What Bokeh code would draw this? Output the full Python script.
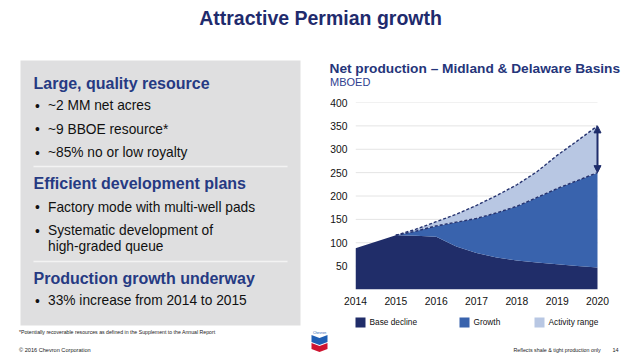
from bokeh.plotting import figure
from bokeh.layouts import column, row
from bokeh.models import Range1d, FixedTicker, Arrow, NormalHead
from bokeh.core.properties import value
from bokeh.embed import file_html
from bokeh.resources import INLINE

# ---------------- data ----------------
t = [2014, 2014.5, 2015, 2015.5, 2016, 2016.5, 2017, 2017.5, 2018, 2018.5, 2019, 2019.5, 2020]
base_decline = [88, 102, 116, 115, 113, 92, 78, 68.5, 62, 58, 54, 50.5, 47]
t_growth = [2015, 2015.5, 2016, 2016.5, 2017, 2017.5, 2018, 2018.5, 2019, 2019.5, 2020]
growth_top = [116, 125, 136, 144, 152, 164, 178, 197, 216, 233, 250]
activity_top = [116, 129, 145, 161, 180, 201, 224, 252, 287, 318, 350]
x_ticks = [2014, 2015, 2016, 2017, 2018, 2019, 2020]
y_ticks = [50, 100, 150, 200, 250, 300, 350, 400]
legend_labels = ["Base decline", "Growth", "Activity range"]
series_colors = ["#202d69", "#3963ad", "#b8c7e3"]

page_title = "Attractive Permian growth"
chart_title = "Net production \u2013 Midland & Delaware Basins"
chart_unit = "MBOED"
headings = ["Large, quality resource", "Efficient development plans", "Production growth underway"]
bullets = ["~2 MM net acres", "~9 BBOE resource*", "~85% no or low royalty",
           "Factory mode with multi-well pads", "Systematic development of",
           "33% increase from 2014 to 2015"]
continuation = ["high-graded queue"]
footnote = "*Potentially recoverable resources as defined in the Supplement to the Annual Report"
copyright_txt = "\u00a9 2016 Chevron Corporation"
footer_right = "Reflects shale & tight production only"
page_no = "14"

FONT = value("Liberation Sans")
NAVY = "#1f2b6d"
HEAD = "#263a83"


def canvas(w, h, x0, y0):
    f = figure(width=w, height=h, x_range=Range1d(x0, x0 + w), y_range=Range1d(y0 + h, y0),
               x_axis_type=None, y_axis_type=None, min_border=0, frame_align=False,
               output_backend="svg", toolbar_location=None)
    f.outline_line_color = None
    f.background_fill_color = "white"
    f.border_fill_color = "white"
    return f


# ---------------- title ----------------
ft = canvas(640, 48, 0, 0)
ft.text(x=[320], y=[17], text=[page_title], text_font=FONT, text_font_size=value("19.5px"),
        text_font_style="bold", text_color=NAVY, text_align="center", text_baseline="middle")

# ---------------- left panel ----------------
fl = canvas(308, 308, 0, 48)
fl.quad(left=[20], right=[300], top=[60], bottom=[325], fill_color="#dfdfe0", line_color=None)
fl.segment(x0=[33, 33], x1=[287, 287], y0=[166, 261], y1=[166, 261], line_color="#f3f3f3", line_width=1.5)
fl.text(x=[33, 33, 33], y=[83, 183.3, 277.5], text=headings, text_font=FONT,
        text_font_size=value("16px"), text_font_style="bold", text_color=HEAD,
        text_baseline="middle")
by = [105.3, 128.6, 152, 206.5, 229.8, 299.8]
fl.text(x=[47.5] * len(bullets), y=by, text=bullets, text_font=FONT,
        text_font_size=value("13.75px"), text_color="#111111", text_baseline="middle")
fl.text(x=[34.5] * len(bullets), y=[v + 0.8 for v in by], text=["\u2022"] * len(bullets), text_font=FONT,
        text_font_size=value("13.75px"), text_color="#111111", text_baseline="middle")
fl.text(x=[47.5], y=[245.5], text=continuation, text_font=FONT,
        text_font_size=value("13.75px"), text_color="#111111", text_baseline="middle")
fl.text(x=[18.5], y=[331.7], text=[footnote], text_font=FONT, text_font_size=value("5.2px"),
        text_color="#222222", text_baseline="middle")
fl.text(x=[18.5], y=[349], text=[copyright_txt], text_font=FONT, text_font_size=value("5.6px"),
        text_color="#222222", text_baseline="middle")

# ---------------- chart header ----------------
fh = canvas(332, 44, 308, 48)
fh.text(x=[329], y=[67.7], text=[chart_title], text_font=FONT, text_font_size=value("13.7px"),
        text_font_style="bold", text_color="#25357a", text_baseline="middle")
fh.text(x=[329.5], y=[81.8], text=[chart_unit], text_font=FONT, text_font_size=value("11px"),
        text_color="#2f4090", text_baseline="middle")

# ---------------- chart ----------------
span = x_ticks[-1] - x_ticks[0]
x_end = x_ticks[-1] + span * 6.0 / 242.0   # a few pixels of room for the arrow heads
p = figure(width=332, height=218, x_range=Range1d(x_ticks[0], x_end), y_range=Range1d(0, 400),
           min_border_left=47, min_border_right=37, min_border_top=10, min_border_bottom=21,
           frame_align=False, output_backend="svg", toolbar_location=None)
p.outline_line_color = None
p.xgrid.visible = False
p.ygrid.visible = False
p.xaxis.ticker = FixedTicker(ticks=x_ticks)
p.yaxis.ticker = FixedTicker(ticks=y_ticks)
for ax in (p.xaxis[0], p.yaxis[0]):
    ax.axis_line_color = None
    ax.major_tick_line_color = None
    ax.minor_tick_line_color = None
    ax.major_tick_out = 0
    ax.major_tick_in = 0
    ax.minor_tick_out = 0
    ax.minor_tick_in = 0
    ax.major_label_text_font = "Liberation Sans"
    ax.major_label_text_font_size = "10.3px"
    ax.major_label_text_color = "#111111"
p.xaxis.major_label_standoff = 7
p.yaxis.major_label_standoff = 8

# horizontal grid lines over the plotted years only
p.segment(x0=[x_ticks[0]] * len(y_ticks), x1=[x_ticks[-1]] * len(y_ticks), y0=y_ticks, y1=y_ticks,
          line_color="#e4e4e4", line_width=1)
p.varea(x=t, y1=[0] * len(t), y2=base_decline, fill_color=series_colors[0])
p.varea(x=t_growth, y1=base_decline[2:], y2=growth_top, fill_color=series_colors[1])
p.varea(x=t_growth, y1=growth_top, y2=activity_top, fill_color=series_colors[2])
p.line(x=t_growth, y=growth_top, line_color="#26336f", line_width=1.4, line_dash="3 2")
p.line(x=t_growth, y=activity_top, line_color="#26336f", line_width=1.4, line_dash="3 2")
p.add_layout(Arrow(x_start=t_growth[-1], y_start=growth_top[-1], x_end=t_growth[-1], y_end=activity_top[-1],
                   line_color="#1f2d6b", line_width=2,
                   start=NormalHead(size=7, fill_color="#1f2d6b", line_color="#1f2d6b"),
                   end=NormalHead(size=7, fill_color="#1f2d6b", line_color="#1f2d6b")))

# ---------------- legend + footer ----------------
fb = canvas(332, 46, 308, 310)
lx = [355, 459, 534]
fb.quad(left=lx, right=[v + 10 for v in lx], top=[317] * 3, bottom=[327] * 3,
        fill_color=series_colors, line_color=None)
fb.text(x=[v + 14 for v in lx], y=[321.8] * 3, text=legend_labels, text_font=FONT,
        text_font_size=value("8.3px"), text_color="#111111", text_baseline="middle")
fb.text(x=[513], y=[349], text=[footer_right], text_font=FONT, text_font_size=value("5.3px"),
        text_color="#222222", text_baseline="middle")
fb.text(x=[612], y=[349], text=[page_no], text_font=FONT, text_font_size=value("5.5px"),
        text_color="#222222", text_baseline="middle")
# logo
fb.text(x=[319], y=[332.2], text=["Chevron"], text_font=FONT, text_font_size=value("3.5px"),
        text_color="#1f5fb4", text_align="center", text_baseline="middle")
fb.patch(x=[311, 319, 327, 327, 319, 311], y=[334.5, 337.5, 334.5, 341.5, 344.5, 341.5],
         fill_color="#1f5fb4", line_color=None)
fb.patch(x=[311, 319, 327, 327, 319, 311], y=[342.5, 345.5, 342.5, 348.5, 351.5, 348.5],
         fill_color="#cf1430", line_color=None)

layout = column(ft, row(fl, column(fh, p, fb)))

open("out.html", "w").write(file_html(layout, INLINE))
